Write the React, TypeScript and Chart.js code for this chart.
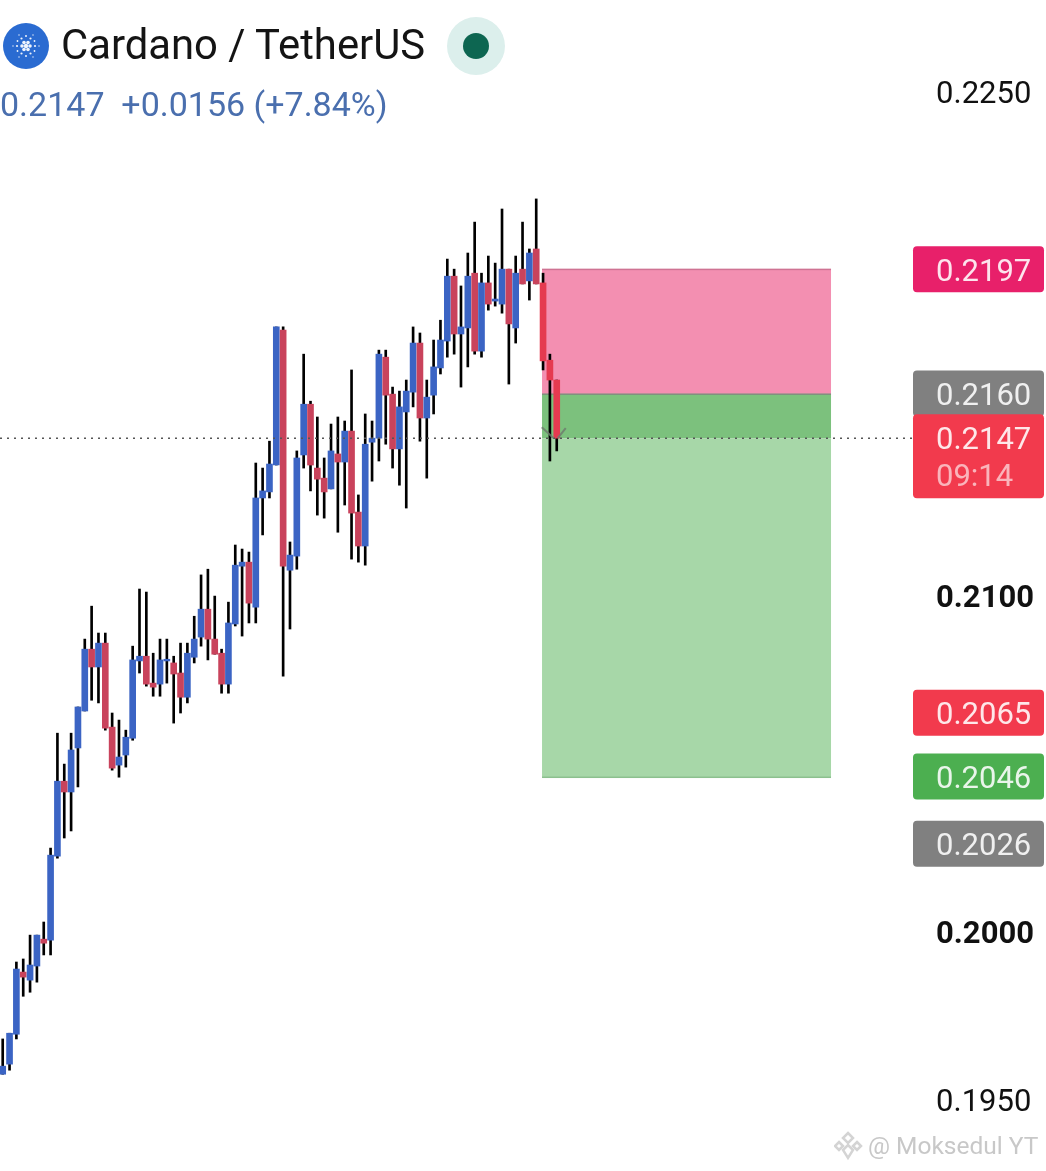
import React, { useEffect, useRef } from "react";
import { Chart, registerables } from "chart.js";

Chart.register(...registerables);

const opens = [0.19577,0.19607,0.19696,0.19881,0.19857,0.19899,0.19979,0.19976,0.20226,0.20449,0.20417,0.20548,0.20658,0.20842,0.20789,0.20860,0.20610,0.20497,0.20527,0.20577,0.20807,0.20821,0.20741,0.20738,0.20807,0.20801,0.20771,0.20699,0.20818,0.20878,0.20961,0.20872,0.20830,0.20738,0.20917,0.21089,0.21101,0.20967,0.21292,0.21310,0.21390,0.21792,0.21077,0.21119,0.21420,0.21571,0.21381,0.21351,0.21319,0.21423,0.21399,0.21491,0.21250,0.21149,0.21458,0.21470,0.21711,0.21601,0.21438,0.21548,0.21607,0.21753,0.21530,0.21598,0.21679,0.21759,0.21952,0.21780,0.21798,0.21961,0.21729,0.21932,0.21878,0.21869,0.21973,0.21798,0.21973,0.21938,0.22033,0.21932,0.21702,0.21643];
const closes = [0.19601,0.19699,0.19890,0.19866,0.19902,0.19991,0.19967,0.20229,0.20449,0.20417,0.20542,0.20670,0.20842,0.20789,0.20860,0.20607,0.20488,0.20521,0.20580,0.20810,0.20821,0.20738,0.20729,0.20810,0.20812,0.20768,0.20699,0.20830,0.20872,0.20961,0.20872,0.20827,0.20738,0.20920,0.21092,0.21101,0.20979,0.21292,0.21313,0.21393,0.21801,0.21089,0.21122,0.21411,0.21571,0.21390,0.21348,0.21310,0.21432,0.21399,0.21491,0.21247,0.21149,0.21452,0.21470,0.21720,0.21598,0.21438,0.21563,0.21610,0.21753,0.21530,0.21592,0.21682,0.21762,0.21952,0.21780,0.21801,0.21952,0.21729,0.21932,0.21869,0.21884,0.21973,0.21810,0.21961,0.21929,0.22021,0.21929,0.21700,0.21643,0.21470];
const highs = [0.19682,0.19699,0.19911,0.19920,0.19991,0.19991,0.20030,0.20250,0.20592,0.20500,0.20592,0.20670,0.20872,0.20970,0.20890,0.20890,0.20652,0.20631,0.20601,0.20851,0.21021,0.21012,0.20830,0.20872,0.20872,0.20821,0.20860,0.20860,0.20940,0.21063,0.21080,0.21000,0.20842,0.20982,0.21152,0.21140,0.21131,0.21396,0.21381,0.21461,0.21801,0.21801,0.21161,0.21432,0.21720,0.21580,0.21533,0.21411,0.21512,0.21533,0.21521,0.21673,0.21301,0.21542,0.21521,0.21732,0.21732,0.21622,0.21610,0.21643,0.21801,0.21783,0.21643,0.21762,0.21821,0.22003,0.21973,0.21923,0.22021,0.22113,0.21961,0.22012,0.21991,0.22152,0.21973,0.22012,0.22113,0.22033,0.22182,0.21961,0.21720,0.21643];
const lows = [0.19577,0.19589,0.19682,0.19809,0.19821,0.19851,0.19932,0.19932,0.20220,0.20280,0.20301,0.20432,0.20658,0.20690,0.20682,0.20601,0.20482,0.20461,0.20491,0.20571,0.20771,0.20732,0.20702,0.20702,0.20741,0.20622,0.20652,0.20682,0.20801,0.20851,0.20810,0.20827,0.20711,0.20711,0.20911,0.20881,0.20920,0.20920,0.21182,0.21292,0.21390,0.20762,0.20902,0.21080,0.21381,0.21313,0.21241,0.21232,0.21319,0.21190,0.21271,0.21110,0.21101,0.21092,0.21342,0.21402,0.21452,0.21381,0.21330,0.21262,0.21563,0.21461,0.21351,0.21542,0.21661,0.21711,0.21720,0.21622,0.21682,0.21720,0.21711,0.21851,0.21863,0.21842,0.21631,0.21753,0.21929,0.21881,0.21929,0.21673,0.21402,0.21432];

const axisTicks = [0.225, 0.21, 0.2, 0.195];
const boldTicks = [0.21, 0.2];

const stopPrice = 0.2197;
const entryPrice = 0.216;
const lastPrice = 0.2147;
const targetPrice = 0.2046;
const boxStart = 78.85;
const boxEnd = 121.1;

const priceTags = [
  { price: 0.2197, color: "#e8206a" },
  { price: 0.216, color: "#808080" },
  { price: 0.2065, color: "#f23a4d" },
  { price: 0.2046, color: "#4caf50" },
  { price: 0.2026, color: "#808080" },
];

const BLUE = "#3b64c4";
const RED = "#c9435c";
const LIVE_RED = "#e53a50";
const FONT = "Roboto, sans-serif";

function roundRect(ctx: CanvasRenderingContext2D, x: number, y: number, w: number, h: number, r: number, color: string) {
  ctx.fillStyle = color;
  ctx.beginPath();
  ctx.roundRect(x, y, w, h, r);
  ctx.fill();
}

const overlayPlugin = {
  id: "overlay",
  beforeDatasetsDraw(chart: any) {
    const { ctx, scales } = chart;
    const x0 = scales.x.getPixelForValue(boxStart);
    const x1 = scales.x.getPixelForValue(boxEnd);
    const yStop = scales.y.getPixelForValue(stopPrice);
    const yEntry = scales.y.getPixelForValue(entryPrice);
    const yLast = scales.y.getPixelForValue(lastPrice);
    const yTarget = scales.y.getPixelForValue(targetPrice);
    ctx.save();
    ctx.fillStyle = "#f38fb1";
    ctx.fillRect(x0, yStop - 1, x1 - x0, yEntry - yStop + 1);
    ctx.fillStyle = "#7cc17d";
    ctx.fillRect(x0, yEntry, x1 - x0, yLast - yEntry);
    ctx.fillStyle = "#a7d7a8";
    ctx.fillRect(x0, yLast, x1 - x0, yTarget - yLast);
    ctx.fillStyle = "#cf7393";
    ctx.fillRect(x0, yStop - 1.5, x1 - x0, 1.5);
    ctx.fillStyle = "#7f907f";
    ctx.fillRect(x0, yEntry - 1, x1 - x0, 1.5);
    ctx.fillStyle = "#8cc08e";
    ctx.fillRect(x0, yTarget - 1, x1 - x0, 1.5);
    ctx.restore();
  },
  afterDatasetsDraw(chart: any) {
    const { ctx, scales } = chart;
    const yLast = scales.y.getPixelForValue(lastPrice);
    ctx.save();
    // last-price dotted line
    ctx.strokeStyle = "#555555";
    ctx.lineWidth = 1.5;
    ctx.setLineDash([2, 5]);
    ctx.beginPath();
    ctx.moveTo(0, yLast);
    ctx.lineTo(912, yLast);
    ctx.stroke();
    ctx.setLineDash([]);
    // chevron at the last candle
    ctx.strokeStyle = "rgba(110,125,110,0.85)";
    ctx.lineWidth = 2;
    const cx = scales.x.getPixelForValue(81);
    ctx.beginPath();
    ctx.moveTo(cx - 15, yLast - 11);
    ctx.lineTo(cx - 3, yLast);
    ctx.moveTo(cx + 9, yLast - 10);
    ctx.lineTo(cx + 1, yLast);
    ctx.stroke();
    // price tags
    ctx.font = `400 31px ${FONT}`;
    ctx.textBaseline = "middle";
    ctx.textAlign = "left";
    for (const tag of priceTags) {
      const y = scales.y.getPixelForValue(tag.price);
      roundRect(ctx, 913, y - 24, 131, 46, 4, tag.color);
      ctx.fillStyle = "rgba(255,255,255,0.88)";
      ctx.fillText(tag.price.toFixed(4), 936, y + 3);
    }
    roundRect(ctx, 913, yLast - 24, 131, 84, 4, "#f23a4d");
    ctx.fillStyle = "rgba(255,255,255,0.88)";
    ctx.fillText(lastPrice.toFixed(4), 936, yLast + 3);
    ctx.fillStyle = "rgba(255,255,255,0.62)";
    ctx.fillText("09:14", 936, yLast + 40);
    ctx.restore();
  },
};

const logoDots: [number, number, number][] = [
  [26, 46, 2.2], [22, 46, 1.8], [30, 46, 1.8], [24, 42.5, 1.8], [28, 42.5, 1.8], [24, 49.5, 1.8], [28, 49.5, 1.8],
  [17, 46, 1.1], [35, 46, 1.1], [21.5, 38.5, 1.1], [30.5, 38.5, 1.1], [21.5, 53.5, 1.1], [30.5, 53.5, 1.1],
  [26, 36, 1], [26, 56, 1], [17.5, 41, 0.9], [34.5, 41, 0.9], [17.5, 51, 0.9], [34.5, 51, 0.9],
  [13, 46, 0.7], [39, 46, 0.7], [19, 35, 0.7], [33, 35, 0.7], [19, 57, 0.7], [33, 57, 0.7],
];

export default function App() {
  const canvasRef = useRef<HTMLCanvasElement | null>(null);

  useEffect(() => {
    const bodies = opens.map((o, i) => ({ x: i, y: [o, closes[i]] }));
    const wicks = lows.map((l, i) => ({ x: i, y: [l, highs[i]] }));
    const bodyColors = opens.map((o, i) => (closes[i] >= o ? BLUE : i >= 79 ? LIVE_RED : RED));

    const chart = new Chart(canvasRef.current as HTMLCanvasElement, {
      type: "bar",
      data: {
        datasets: [
          {
            label: "Body",
            data: bodies as any,
            backgroundColor: bodyColors,
            barThickness: 6,
            grouped: false,
            borderSkipped: false,
            order: 1,
          },
          {
            label: "Wick",
            data: wicks as any,
            backgroundColor: "#000000",
            barThickness: 2,
            grouped: false,
            borderSkipped: false,
            order: 2,
          },
        ],
      },
      options: {
        animation: false,
        responsive: false,
        devicePixelRatio: 1,
        layout: { padding: 0 },
        plugins: { legend: { display: false }, tooltip: { enabled: false } },
        scales: {
          x: { type: "linear", display: false, offset: false, min: -0.395, max: 152.53 },
          y: {
            type: "linear",
            position: "right",
            min: 0.19289,
            max: 0.22774,
            border: { display: false },
            grid: { display: false },
            afterFit(scale: any) {
              scale.width = 0;
              scale.paddingTop = 0;
              scale.paddingBottom = 0;
              scale.paddingLeft = 0;
              scale.paddingRight = 0;
              // Nudge the label baseline down to sit where the reference draws it.
              if (!scale.__nudged) {
                const base = scale.getPixelForTick;
                scale.getPixelForTick = (i: number) => base.call(scale, i) + 3.5;
                scale.__nudged = true;
              }
            },
            afterBuildTicks(scale: any) {
              scale.ticks = axisTicks.map((value) => ({ value }));
            },
            ticks: {
              mirror: true,
              crossAlign: "far",
              padding: -12,
              autoSkip: false,
              color: "#111111",
              font: (c: any) => ({
                family: FONT,
                size: 31,
                weight: boldTicks.includes(c.tick?.value) ? "bold" : "normal",
              }),
              callback: (v: any) => Number(v).toFixed(4),
            },
          },
        },
      } as any,
      plugins: [overlayPlugin as any],
    });
    return () => chart.destroy();
  }, []);

  return (
    <div style={{ position: "absolute", left: 0, top: 0, width: 1046, height: 1171, background: "#ffffff", overflow: "hidden" }}>
      <canvas ref={canvasRef} width={1046} height={1171} style={{ display: "block" }} />
      <svg width={520} height={80} style={{ position: "absolute", left: 0, top: 0 }}>
        <circle cx={26} cy={46} r={23} fill="#2a6bd1" />
        {logoDots.map(([cx, cy, r], i) => (
          <circle key={i} cx={cx} cy={cy} r={r} fill="#ffffff" opacity={0.92} />
        ))}
        <circle cx={476} cy={46} r={29} fill="#dcefec" />
        <circle cx={476} cy={46} r={13} fill="#0d6651" />
      </svg>
      <div style={{ position: "absolute", left: 61, top: 21, font: `400 41.8px ${FONT}`, color: "#141414", lineHeight: "48px", whiteSpace: "nowrap" }}>
        Cardano / TetherUS
      </div>
      <div style={{ position: "absolute", left: 0, top: 84, font: `400 34px ${FONT}`, color: "#4a6fae", lineHeight: "40px", whiteSpace: "pre" }}>
        0.2147  +0.0156 (+7.84%)
      </div>
      <svg width={30} height={30} style={{ position: "absolute", left: 834, top: 1131 }}>
        <g fill="none" stroke="#d4d4d4" strokeWidth={2.5}>
          <path d="M14 2 L19 7 L14 12 L9 7 Z" />
          <path d="M5 11 L9 15 L5 19 L1 15 Z" />
          <path d="M23 11 L27 15 L23 19 L19 15 Z" />
          <path d="M14 14 L19 19 L14 27 L9 19 Z" />
        </g>
      </svg>
      <div style={{ position: "absolute", left: 868, top: 1131, font: `400 24.5px ${FONT}`, color: "#c8c8c8", lineHeight: "30px", whiteSpace: "nowrap" }}>
        @ Moksedul YT
      </div>
    </div>
  );
}
